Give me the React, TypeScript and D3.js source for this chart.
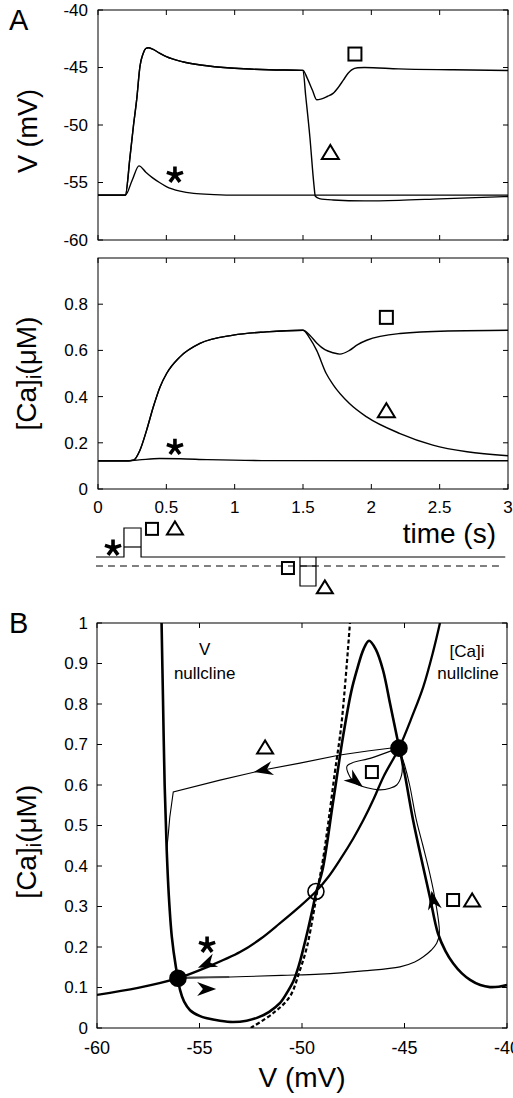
import React from "react";
import * as d3 from "d3";

type P = [number, number];

// ---------- Panel A (top): membrane potential V (mV) vs time (s)
const vStar: P[] = [[0,-56.1],[0.2,-56.1],[0.25,-54.8],[0.3,-53.55],[0.35,-54.1],[0.4,-54.6],[0.45,-55.0],[0.5,-55.35],[0.6,-55.75],[0.7,-55.95],[0.85,-56.05],[1.0,-56.1],[3,-56.1]];
const vPulse: P[] = [[0,-56.1],[0.2,-56.1],[0.234,-52.8],[0.26,-50.0],[0.283,-47.8],[0.307,-44.9],[0.33,-43.8],[0.35,-43.35],[0.368,-43.28],[0.4,-43.4],[0.45,-43.75],[0.5,-44.06],[0.62,-44.5],[0.75,-44.78],[1.0,-45.07],[1.25,-45.2],[1.5,-45.25]];
const vSquareTail: P[] = [[1.53,-45.9],[1.57,-47.0],[1.6,-47.8],[1.63,-47.75],[1.68,-47.5],[1.72,-47.25],[1.76,-46.7],[1.795,-46.1],[1.83,-45.5],[1.856,-45.2],[1.9,-45.02],[1.95,-45.0],[2.2,-45.12],[2.6,-45.2],[3,-45.26]];
const vTriangleTail: P[] = [[1.52,-47.5],[1.55,-51.0],[1.58,-55.2],[1.59,-56.2],[1.62,-56.4],[1.72,-56.52],[1.95,-56.6],[2.2,-56.55],[2.5,-56.42],[3,-56.22]];

// ---------- Panel A (bottom): [Ca]i (uM) vs time (s)
const caStar: P[] = [[0,0.122],[0.2,0.122],[0.3,0.126],[0.45,0.132],[0.6,0.131],[0.8,0.127],[1.2,0.123],[3,0.122]];
const caPulse: P[] = [[0,0.122],[0.22,0.122],[0.26,0.125],[0.307,0.168],[0.356,0.255],[0.405,0.356],[0.454,0.442],[0.502,0.5],[0.6,0.572],[0.746,0.63],[0.99,0.666],[1.23,0.68],[1.5,0.687]];
const caSquareTail: P[] = [[1.55,0.666],[1.6,0.632],[1.66,0.603],[1.72,0.59],[1.77,0.584],[1.84,0.6],[1.9,0.625],[1.966,0.644],[2.21,0.673],[2.56,0.684],[3,0.687]];
const caTriangleTail: P[] = [[1.55,0.652],[1.6,0.6],[1.67,0.5],[1.72,0.452],[1.84,0.37],[1.966,0.312],[2.21,0.24],[2.45,0.19],[2.7,0.161],[3,0.144]];

const timeTicks = [0, 0.5, 1, 1.5, 2, 2.5, 3];
const timeTickLabels = ["0", "0.5", "1", "1.5", "2", "2.5", "3"];
const vTicks = [-60, -55, -50, -45, -40];
const vTickLabels = ["-60", "-55", "-50", "-45", "-40"];
const caTicksA = [0, 0.2, 0.4, 0.6, 0.8];
const caTickLabelsA = ["0", "0.2", "0.4", "0.6", "0.8"];

// ---------- Stimulus protocol (time, relative level)
const protoSpan: P = [-0.015, 2.98];
const dashSpan: P = [-0.015, 2.94];
const dashLevel = -0.31;
const upPulse = { t0: 0.19, t1: 0.315, levels: [0.345, 1] };
const downPulse = { t0: 1.478, t1: 1.595, levels: [-0.31, -1] };

// ---------- Panel B: phase plane V (mV) vs [Ca]i (uM)
const vNullcline: P[] = [[-56.85,1.0],[-56.78,0.81],[-56.7,0.6],[-56.6,0.44],[-56.5,0.33],[-56.35,0.225],[-56.15,0.15],[-56.05,0.123],[-55.95,0.094],[-55.75,0.065],[-55.46,0.044],[-55.0,0.03],[-54.63,0.024],[-54.0,0.018],[-53.37,0.015],[-52.7,0.018],[-52.2,0.025],[-51.6,0.04],[-51.07,0.062],[-50.7,0.09],[-50.4,0.118],[-50.15,0.155],[-49.95,0.193],[-49.7,0.245],[-49.5,0.29],[-49.3,0.336],[-49.0,0.39],[-48.49,0.556],[-48.0,0.719],[-47.6,0.83],[-47.32,0.884],[-47.0,0.935],[-46.73,0.956],[-46.4,0.935],[-46.05,0.884],[-45.7,0.8],[-45.37,0.719],[-45.0,0.63],[-44.58,0.513],[-44.1,0.4],[-43.76,0.323],[-43.37,0.234],[-43.0,0.19],[-42.63,0.16],[-42.2,0.135],[-41.8,0.119],[-41.3,0.106],[-40.83,0.101],[-40.4,0.102],[-40.0,0.106]];
const caNullcline: P[] = [[-60,0.082],[-58,0.099],[-56.05,0.123],[-54.6,0.151],[-53.0,0.188],[-52.0,0.221],[-51.07,0.259],[-50.2,0.296],[-49.32,0.337],[-48.7,0.374],[-48.15,0.415],[-47.5,0.468],[-47.0,0.514],[-46.5,0.566],[-46.03,0.62],[-45.27,0.691],[-44.6,0.773],[-44.08,0.843],[-43.6,0.93],[-43.27,1.0]];
const dashedCurve: P[] = [[-52.5,0.0],[-51.4,0.037],[-50.6,0.077],[-50.1,0.143],[-49.76,0.2],[-49.45,0.28],[-49.25,0.34],[-48.98,0.415],[-48.72,0.506],[-48.4,0.63],[-48.07,0.753],[-47.66,1.0]];
const trajUp: P[] = [[-56.05,0.123],[-53.5,0.126],[-51.0,0.13],[-49.12,0.133],[-47.0,0.141],[-45.22,0.151],[-44.5,0.163],[-44.08,0.176],[-43.7,0.192],[-43.43,0.209],[-43.3,0.234],[-43.48,0.31],[-43.76,0.38],[-44.1,0.45],[-44.42,0.513],[-44.75,0.6],[-45.0,0.65],[-45.27,0.691]];
const trajTriangle: P[] = [[-45.54,0.692],[-46.8,0.684],[-48.15,0.674],[-50.1,0.654],[-51.89,0.637],[-54.0,0.612],[-56.28,0.583],[-56.45,0.52],[-56.52,0.48],[-56.6,0.44]];
const trajSquare: P[] = [[-45.45,0.688],[-46.6,0.667],[-47.8,0.647],[-47.66,0.62],[-47.35,0.603],[-46.83,0.593],[-46.2,0.588],[-45.7,0.592],[-45.38,0.6],[-45.14,0.625],[-45.12,0.66],[-45.22,0.688]];
const trajStar: P[] = [[-56.05,0.124],[-53.55,0.126]];

const fixedPoints = [
  { v: -56.05, ca: 0.123, stable: true },
  { v: -49.32, ca: 0.337, stable: false },
  { v: -45.27, ca: 0.691, stable: true },
];
const arrowsB = [
  { v: -51.89, ca: 0.637, angle: 168 },
  { v: -47.4, ca: 0.61, angle: 38 },
  { v: -43.6, ca: 0.316, angle: -100 },
  { v: -54.65, ca: 0.158, angle: 157 },
  { v: -54.65, ca: 0.096, angle: 0 },
];

const vTicksB = [-60, -55, -50, -45, -40];
const vTickLabelsB = ["-60", "-55", "-50", "-45", "-40"];
const caTicksB = [0, 0.1, 0.2, 0.3, 0.4, 0.5, 0.6, 0.7, 0.8, 0.9, 1];
const caTickLabelsB = ["0", "0.1", "0.2", "0.3", "0.4", "0.5", "0.6", "0.7", "0.8", "0.9", "1"];

// ---------- symbol annotations
const symA_V = [
  { kind: "square", t: 1.88, y: -43.83 },
  { kind: "triangle", t: 1.7, y: -52.35 },
  { kind: "star", t: 0.563, y: -54.35 },
];
const symA_Ca = [
  { kind: "square", t: 2.11, y: 0.743 },
  { kind: "triangle", t: 2.11, y: 0.341 },
  { kind: "star", t: 0.563, y: 0.181 },
];
const symProto = [
  { kind: "star", t: 0.11, y: 0.31 },
  { kind: "square", t: 0.395, y: 0.97 },
  { kind: "triangle", t: 0.563, y: 1.0 },
  { kind: "square", t: 1.39, y: -0.38 },
  { kind: "triangle", t: 1.66, y: -1.03 },
];
const symB = [
  { kind: "triangle", v: -51.8, ca: 0.694 },
  { kind: "square", v: -46.59, ca: 0.632 },
  { kind: "star", v: -54.63, ca: 0.205 },
  { kind: "square", v: -42.63, ca: 0.316 },
  { kind: "triangle", v: -41.7, ca: 0.316 },
];

// ---------- scales
const xA = d3.scaleLinear().domain([0, 3]).range([98, 508]);
const yV = d3.scaleLinear().domain([-60, -40]).range([240, 10]);
const yC = d3.scaleLinear().domain([0, 1]).range([489, 258]);
const yStim = d3.scaleLinear().domain([-1, 1]).range([586, 528]);
const xB = d3.scaleLinear().domain([-60, -40]).range([97, 507]);
const yB = d3.scaleLinear().domain([0, 1]).range([1028, 623]);

const FONT = "'Liberation Sans', Arial, Helvetica, sans-serif";

function Frame({ x, y, xt, yt }: any) {
  const [x0, x1] = x.range();
  const [y0, y1] = y.range();
  const L = 5;
  return (
    <g stroke="#000" strokeWidth={1} fill="none">
      <rect x={x0} y={y1} width={x1 - x0} height={y0 - y1} />
      {xt.map((t: number) => (
        <g key={"x" + t}>
          <line x1={x(t)} x2={x(t)} y1={y0} y2={y0 - L} />
          <line x1={x(t)} x2={x(t)} y1={y1} y2={y1 + L} />
        </g>
      ))}
      {yt.map((t: number) => (
        <g key={"y" + t}>
          <line x1={x0} x2={x0 + L} y1={y(t)} y2={y(t)} />
          <line x1={x1} x2={x1 - L} y1={y(t)} y2={y(t)} />
        </g>
      ))}
    </g>
  );
}

function Symbol({ kind, cx, cy, big }: { kind: string; cx: number; cy: number; big?: boolean }) {
  if (kind === "square") {
    const s = big ? 13 : 12;
    return <rect x={cx - s / 2} y={cy - s / 2} width={s} height={s} fill="none" stroke="#000" strokeWidth={2} />;
  }
  if (kind === "triangle") {
    const w = big ? 17 : 16;
    const h = big ? 14 : 13;
    return (
      <path
        d={`M${cx - w / 2},${cy + h / 2}L${cx},${cy - h / 2}L${cx + w / 2},${cy + h / 2}Z`}
        fill="none" stroke="#000" strokeWidth={2} strokeLinejoin="miter"
      />
    );
  }
  const r = 8.5;
  const d = [-90, -18, 54, 126, 198]
    .map((a) => {
      const rad = (a * Math.PI) / 180;
      return `M${cx},${cy}L${cx + r * Math.cos(rad)},${cy + r * Math.sin(rad)}`;
    })
    .join("");
  return <path d={d} stroke="#000" strokeWidth={3.6} fill="none" strokeLinecap="butt" />;
}

function Arrowhead({ cx, cy, angle }: { cx: number; cy: number; angle: number }) {
  const len = 19, half = 7;
  const d = `M${len / 2},0L${-len / 2},${-half}L${-len / 2 + len * 0.3},0L${-len / 2},${half}Z`;
  return <path d={d} transform={`translate(${cx},${cy}) rotate(${angle})`} fill="#000" />;
}

export default function App() {
  const lineA = (ys: any) =>
    d3.line<P>().x((d) => xA(d[0])).y((d) => ys(d[1])).curve(d3.curveMonotoneX);
  const lineB = d3.line<P>().x((d) => xB(d[0])).y((d) => yB(d[1])).curve(d3.curveCatmullRom.alpha(0.5));
  const lineBLin = d3.line<P>().x((d) => xB(d[0])).y((d) => yB(d[1]));

  const lV = lineA(yV);
  const lC = lineA(yC);

  const tickText = { fontFamily: FONT, fontSize: 17, fill: "#000" } as const;

  // stimulus protocol paths
  const sy0 = yStim(0);
  const protoPath =
    `M${xA(protoSpan[0])},${sy0}H${xA(upPulse.t0)}V${yStim(upPulse.levels[1])}H${xA(upPulse.t1)}V${sy0}H${xA(protoSpan[1])}`;
  const upMid = `M${xA(upPulse.t0)},${yStim(upPulse.levels[0])}H${xA(upPulse.t1)}`;
  const downBox =
    `M${xA(downPulse.t0)},${sy0}V${yStim(downPulse.levels[1])}H${xA(downPulse.t1)}V${sy0}` +
    `M${xA(downPulse.t0)},${yStim(downPulse.levels[0])}H${xA(downPulse.t1)}`;

  return (
    <svg width={513} height={1098} style={{ position: "absolute", left: 0, top: 0, background: "#fff" }}>
      <rect width={513} height={1098} fill="#fff" />

      {/* ---------- Panel A, voltage */}
      <text x={9} y={30} fontFamily={FONT} fontSize={29}>A</text>
      <Frame x={xA} y={yV} xt={timeTicks} yt={vTicks} />
      {vTicks.map((t, i) => (
        <text key={t} x={88} y={yV(t)} dy="0.35em" textAnchor="end" {...tickText}>{vTickLabels[i]}</text>
      ))}
      <text transform={`translate(37,${yV(-50) + 6}) rotate(-90)`} textAnchor="middle" fontFamily={FONT} fontSize={27}>V (mV)</text>
      <g fill="none" stroke="#000" strokeWidth={1.4}>
        <path d={lV(vStar) || ""} />
        <path d={lV([...vPulse, ...vSquareTail]) || ""} />
        <path d={lV([...vPulse, ...vTriangleTail]) || ""} />
      </g>
      {symA_V.map((s, i) => <Symbol key={i} kind={s.kind} cx={xA(s.t)} cy={yV(s.y)} big />)}

      {/* ---------- Panel A, calcium */}
      <Frame x={xA} y={yC} xt={timeTicks} yt={caTicksA} />
      {caTicksA.map((t, i) => (
        <text key={t} x={88} y={yC(t)} dy="0.35em" textAnchor="end" {...tickText}>{caTickLabelsA[i]}</text>
      ))}
      {timeTicks.map((t, i) => (
        <text key={t} x={xA(t)} y={513} textAnchor="middle" {...tickText}>{timeTickLabels[i]}</text>
      ))}
      <text transform={`translate(36,${yC(0.5) + 0}) rotate(-90)`} textAnchor="middle" fontFamily={FONT} fontSize={28}>
        [Ca]<tspan fontSize={20} dy={5}>i</tspan><tspan dy={-5}>(μM)</tspan>
      </text>
      <g fill="none" stroke="#000" strokeWidth={1.4}>
        <path d={lC(caStar) || ""} />
        <path d={lC([...caPulse, ...caSquareTail]) || ""} />
        <path d={lC([...caPulse, ...caTriangleTail]) || ""} />
      </g>
      {symA_Ca.map((s, i) => <Symbol key={i} kind={s.kind} cx={xA(s.t)} cy={yC(s.y)} big />)}
      <text x={496} y={543} textAnchor="end" fontFamily={FONT} fontSize={28}>time (s)</text>

      {/* ---------- stimulus protocol */}
      <g fill="none" stroke="#000" strokeWidth={1.2}>
        <path d={protoPath} />
        <path d={upMid} />
        <path d={`M${xA(dashSpan[0])},${yStim(dashLevel)}H${xA(dashSpan[1])}`} strokeDasharray="7,5" />
        <path d={downBox} />
      </g>
      {symProto.map((s, i) => <Symbol key={i} kind={s.kind} cx={xA(s.t)} cy={yStim(s.y)} />)}

      {/* ---------- Panel B, phase plane */}
      <text x={9} y={633} fontFamily={FONT} fontSize={29}>B</text>
      <defs>
        <clipPath id="clipB">
          <rect x={xB(-60)} y={yB(1)} width={xB(-40) - xB(-60)} height={yB(0) - yB(1)} />
        </clipPath>
      </defs>
      <Frame x={xB} y={yB} xt={vTicksB} yt={caTicksB} />
      {caTicksB.map((t, i) => (
        <text key={t} x={88} y={yB(t)} dy="0.35em" textAnchor="end" {...tickText}>{caTickLabelsB[i]}</text>
      ))}
      {vTicksB.map((t, i) => (
        <text key={t} x={xB(t)} y={1054} textAnchor="middle" fontFamily={FONT} fontSize={18}>{vTickLabelsB[i]}</text>
      ))}
      <text x={xB(-50)} y={1087} textAnchor="middle" fontFamily={FONT} fontSize={28}>V (mV)</text>
      <text transform={`translate(36,${yB(0.46)}) rotate(-90)`} textAnchor="middle" fontFamily={FONT} fontSize={28}>
        [Ca]<tspan fontSize={20} dy={5}>i</tspan><tspan dy={-5}>(μM)</tspan>
      </text>

      <g clipPath="url(#clipB)" fill="none" stroke="#000">
        <path d={lineB(dashedCurve) || ""} strokeWidth={2.2} strokeDasharray="4,2.5" />
        <path d={lineB(caNullcline) || ""} strokeWidth={2.3} />
        <path d={lineB(vNullcline) || ""} strokeWidth={2.6} />
        <path d={lineB(trajUp) || ""} strokeWidth={1.1} />
        <path d={lineBLin(trajTriangle) || ""} strokeWidth={1.1} />
        <path d={lineB(trajSquare) || ""} strokeWidth={1.1} />
        <path d={lineBLin(trajStar) || ""} strokeWidth={2} stroke="#444" />
      </g>
      {fixedPoints.map((p, i) => (
        <circle key={i} cx={xB(p.v)} cy={yB(p.ca)} r={8}
          fill={p.stable ? "#000" : "none"} stroke="#000" strokeWidth={1.6} />
      ))}
      {arrowsB.map((a, i) => <Arrowhead key={i} cx={xB(a.v)} cy={yB(a.ca)} angle={a.angle} />)}
      {symB.map((s, i) => <Symbol key={i} kind={s.kind} cx={xB(s.v)} cy={yB(s.ca)} />)}

      <g fontFamily={FONT} fontSize={17} textAnchor="middle">
        <text x={xB(-54.75)} y={yB(0.921)}>V</text>
        <text x={xB(-54.75)} y={yB(0.862)}>nullcline</text>
        <text x={xB(-41.95)} y={yB(0.916)}>[Ca]i</text>
        <text x={xB(-41.9)} y={yB(0.862)}>nullcline</text>
      </g>
    </svg>
  );
}
